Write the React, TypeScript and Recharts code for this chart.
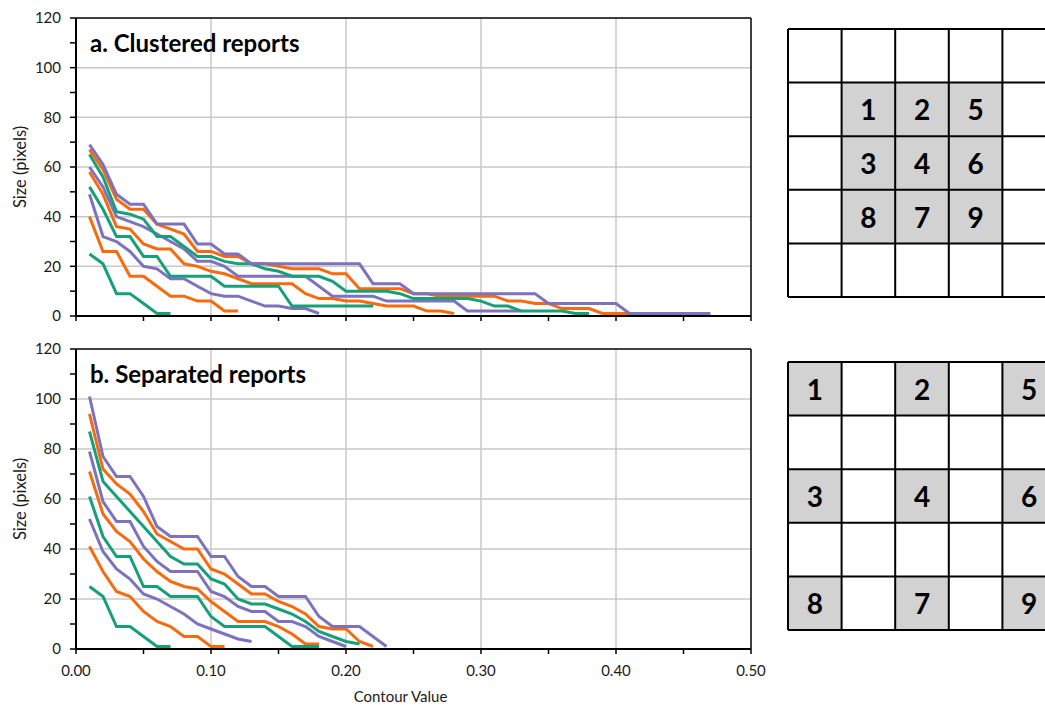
import React from 'react';
import { LineChart, Line, XAxis, YAxis, CartesianGrid, ReferenceLine } from 'recharts';

const FONT = 'Lato, "Open Sans", sans-serif';

const ORANGE = '#f96a0c';
const GREEN = '#16a07a';
const PURPLE = '#7c72bd';

// contour values on the x axis
const contourValues = [
  0.01, 0.02, 0.03, 0.04, 0.05, 0.06, 0.07, 0.08, 0.09, 0.1,
  0.11, 0.12, 0.13, 0.14, 0.15, 0.16, 0.17, 0.18, 0.19, 0.2,
  0.21, 0.22, 0.23, 0.24, 0.25, 0.26, 0.27, 0.28, 0.29, 0.3,
  0.31, 0.32, 0.33, 0.34, 0.35, 0.36, 0.37, 0.38, 0.39, 0.4,
  0.41, 0.42, 0.43, 0.44, 0.45, 0.46, 0.47,
];

const xTicks = [0, 0.05, 0.1, 0.15, 0.2, 0.25, 0.3, 0.35, 0.4, 0.45, 0.5];
const yTicks = [0, 10, 20, 30, 40, 50, 60, 70, 80, 90, 100, 110, 120];
const gridYValues = [20, 40, 60, 80, 100];
const gridXValues = [0.1, 0.2, 0.3, 0.4];

// a. clustered reports
const clusteredOrangeA = [67, 59, 47, 43, 43, 37, 35, 33, 26, 26, 24, 24, 21, 21, 20, 19, 19, 19, 17, 17, 11, 11, 11, 11, 9, 9, 8, 8, 8, 8, 8, 6, 6, 5, 5, 3, 3, 3, 1, 1, 1];
const clusteredGreenA = [65, 56, 42, 41, 39, 32, 32, 28, 24, 24, 22, 21, 21, 19, 18, 16, 16, 16, 14, 10, 10, 10, 10, 9, 7, 7, 7, 7, 7, 6, 4, 4, 2, 2, 2, 2, 1, 1];
const clusteredPurpleA = [69, 61, 49, 45, 45, 37, 37, 37, 29, 29, 25, 25, 21, 21, 21, 21, 21, 21, 21, 21, 21, 13, 13, 13, 9, 9, 9, 9, 9, 9, 9, 9, 9, 9, 5, 5, 5, 5, 5, 5, 1, 1, 1, 1, 1, 1, 1];
const clusteredOrangeB = [58, 49, 36, 35, 29, 27, 27, 21, 20, 18, 17, 15, 13, 13, 13, 13, 9, 7, 7, 6, 6, 5, 4, 4, 4, 2, 2, 1];
const clusteredGreenB = [52, 43, 32, 32, 24, 24, 16, 16, 16, 16, 12, 12, 12, 12, 12, 4, 4, 4, 4, 4, 4, 4];
const clusteredPurpleB = [60, 52, 40, 38, 36, 33, 30, 27, 22, 22, 20, 16, 16, 16, 16, 16, 16, 12, 8, 8, 8, 8, 6, 6, 6, 6, 6, 6, 2, 2, 2, 2, 2];
const clusteredOrangeC = [40, 26, 26, 16, 16, 12, 8, 8, 6, 6, 2, 2];
const clusteredGreenC = [25, 21, 9, 9, 5, 1, 1];
const clusteredPurpleC = [49, 32, 30, 26, 20, 19, 15, 15, 12, 9, 8, 8, 6, 4, 4, 3, 3, 1];

// b. separated reports
const separatedOrangeA = [94, 72, 66, 62, 55, 46, 43, 40, 40, 32, 30, 26, 22, 22, 19, 17, 14, 9, 8, 8, 3, 1];
const separatedGreenA = [87, 67, 61, 55, 49, 43, 37, 34, 34, 28, 26, 20, 18, 18, 16, 14, 11, 7, 5, 3, 2];
const separatedPurpleA = [101, 77, 69, 69, 61, 49, 45, 45, 45, 37, 37, 29, 25, 25, 21, 21, 21, 13, 9, 9, 9, 5, 1];
const separatedOrangeB = [71, 54, 47, 43, 36, 31, 27, 25, 24, 19, 15, 11, 11, 11, 9, 6, 2, 2];
const separatedGreenB = [61, 45, 37, 37, 25, 25, 21, 21, 21, 13, 9, 9, 9, 9, 5, 1, 1, 1];
const separatedPurpleB = [79, 59, 51, 51, 41, 35, 31, 31, 31, 23, 21, 17, 15, 15, 11, 11, 9, 5, 3, 1];
const separatedOrangeC = [41, 31, 23, 21, 15, 11, 9, 5, 5, 1, 1];
const separatedGreenC = [25, 21, 9, 9, 5, 1, 1];
const separatedPurpleC = [52, 39, 32, 28, 22, 20, 17, 14, 10, 8, 6, 4, 3];

// report layouts drawn on the right
const clusteredLayout = [
  ['', '', '', '', ''],
  ['', '1', '2', '5', ''],
  ['', '3', '4', '6', ''],
  ['', '8', '7', '9', ''],
  ['', '', '', '', ''],
];
const separatedLayout = [
  ['1', '', '2', '', '5'],
  ['', '', '', '', ''],
  ['3', '', '4', '', '6'],
  ['', '', '', '', ''],
  ['8', '', '7', '', '9'],
];

interface Series {
  key: string;
  color: string;
  values: number[];
}

const clusteredSeries: Series[] = [
  { key: 'oC', color: ORANGE, values: clusteredOrangeC },
  { key: 'gC', color: GREEN, values: clusteredGreenC },
  { key: 'pC', color: PURPLE, values: clusteredPurpleC },
  { key: 'oB', color: ORANGE, values: clusteredOrangeB },
  { key: 'gB', color: GREEN, values: clusteredGreenB },
  { key: 'pB', color: PURPLE, values: clusteredPurpleB },
  { key: 'oA', color: ORANGE, values: clusteredOrangeA },
  { key: 'gA', color: GREEN, values: clusteredGreenA },
  { key: 'pA', color: PURPLE, values: clusteredPurpleA },
];

const separatedSeries: Series[] = [
  { key: 'oC', color: ORANGE, values: separatedOrangeC },
  { key: 'gC', color: GREEN, values: separatedGreenC },
  { key: 'pC', color: PURPLE, values: separatedPurpleC },
  { key: 'oB', color: ORANGE, values: separatedOrangeB },
  { key: 'gB', color: GREEN, values: separatedGreenB },
  { key: 'pB', color: PURPLE, values: separatedPurpleB },
  { key: 'oA', color: ORANGE, values: separatedOrangeA },
  { key: 'gA', color: GREEN, values: separatedGreenA },
  { key: 'pA', color: PURPLE, values: separatedPurpleA },
];

const buildRows = (series: Series[]) =>
  contourValues.map((c, i) => {
    const row: Record<string, number | null> = { contour: c };
    series.forEach((s) => {
      row[s.key] = i < s.values.length ? s.values[i] : null;
    });
    return row;
  });

const tickStyle = { fill: '#1a1a1a', fontSize: 15, fontFamily: FONT };

interface PanelProps {
  title: string;
  series: Series[];
  top: number;
  height: number;
  showXLabels: boolean;
}

const Panel: React.FC<PanelProps> = ({ title, series, top, height, showXLabels }) => {
  const rows = buildRows(series);
  const xAxisHeight = showXLabels ? 56 : 14;
  return (
    <div style={{ position: 'absolute', left: 0, top, width: 770, height }}>
      <LineChart
        width={770}
        height={height}
        data={rows}
        margin={{ top: 18, right: 19, bottom: 0, left: 16 }}
      >
        <CartesianGrid
          horizontalValues={gridYValues}
          verticalValues={gridXValues}
          stroke="#c8c8c8"
          strokeWidth={1.5}
        />
        <XAxis
          type="number"
          dataKey="contour"
          domain={[0, 0.5]}
          ticks={xTicks}
          interval={0}
          allowDataOverflow
          height={xAxisHeight}
          axisLine={{ stroke: '#000', strokeWidth: 2 }}
          tickLine={{ stroke: '#000', strokeWidth: 1.5 }}
          tickSize={5}
          tickMargin={11}
          tick={tickStyle}
          tickFormatter={(v: number) =>
            showXLabels && Math.round(v * 100) % 10 === 0 ? v.toFixed(2) : ''
          }
          label={
            showXLabels
              ? {
                  value: 'Contour Value',
                  position: 'insideBottom',
                  offset: 3,
                  dx: -13,
                  style: { fill: '#1a1a1a', fontSize: 15, fontFamily: FONT },
                }
              : undefined
          }
        />
        <YAxis
          type="number"
          domain={[0, 120]}
          ticks={yTicks}
          interval={0}
          allowDataOverflow
          width={60}
          axisLine={{ stroke: '#000', strokeWidth: 2 }}
          tickLine={{ stroke: '#000', strokeWidth: 1.5 }}
          tickSize={6}
          tickMargin={9}
          tick={tickStyle}
          tickFormatter={(v: number) => (v % 20 === 0 ? String(v) : '')}
          label={{
            value: 'Size (pixels)',
            angle: -90,
            position: 'insideLeft',
            offset: 4,
            style: { textAnchor: 'middle', fill: '#1a1a1a', fontSize: 16.5, fontFamily: FONT },
          }}
        />
        <ReferenceLine y={120} stroke="#000" strokeWidth={1.5} />
        <ReferenceLine x={0.5} stroke="#000" strokeWidth={1.5} />
        {series.map((s) => (
          <Line
            key={s.key}
            type="linear"
            dataKey={s.key}
            stroke={s.color}
            strokeWidth={3}
            dot={false}
            activeDot={false}
            connectNulls={false}
            isAnimationActive={false}
          />
        ))}
      </LineChart>
      <div
        style={{
          position: 'absolute',
          left: 90,
          top: 29,
          fontSize: 24,
          fontWeight: 700,
          color: '#000',
          fontFamily: FONT,
          lineHeight: '28px',
          whiteSpace: 'nowrap',
        }}
      >
        {title}
      </div>
    </div>
  );
};

const CELL = 53.6;

const CellGrid: React.FC<{ left: number; top: number; cells: string[][] }> = ({ left, top, cells }) => {
  const n = cells.length;
  const size = n * CELL + 4;
  return (
    <svg style={{ position: 'absolute', left: left - 2, top: top - 2 }} width={size} height={size}>
      <g transform="translate(2,2)">
        {cells.map((row, r) =>
          row.map((label, c) => (
            <rect
              key={`f-${r}-${c}`}
              x={c * CELL}
              y={r * CELL}
              width={CELL}
              height={CELL}
              fill={label ? '#d2d2d2' : '#fff'}
            />
          ))
        )}
        {Array.from({ length: n + 1 }, (_, i) => (
          <g key={`l-${i}`}>
            <line x1={i * CELL} y1={0} x2={i * CELL} y2={n * CELL} stroke="#000" strokeWidth={2} />
            <line x1={0} y1={i * CELL} x2={n * CELL} y2={i * CELL} stroke="#000" strokeWidth={2} />
          </g>
        ))}
        {cells.map((row, r) =>
          row.map((label, c) =>
            label ? (
              <text
                key={`t-${r}-${c}`}
                x={c * CELL + CELL / 2}
                y={r * CELL + CELL / 2}
                textAnchor="middle"
                dominantBaseline="central"
                fontFamily={FONT}
                fontWeight={700}
                fontSize={28}
                fill="#000"
              >
                {label}
              </text>
            ) : null
          )
        )}
      </g>
    </svg>
  );
};

export default function App() {
  return (
    <div
      style={{
        position: 'absolute',
        left: 0,
        top: 0,
        width: 1045,
        height: 705,
        background: '#fff',
        overflow: 'hidden',
        fontFamily: FONT,
      }}
    >
      <Panel title="a. Clustered reports" series={clusteredSeries} top={0} height={330} showXLabels={false} />
      <Panel title="b. Separated reports" series={separatedSeries} top={331} height={374} showXLabels />
      <CellGrid left={788} top={29} cells={clusteredLayout} />
      <CellGrid left={788} top={362} cells={separatedLayout} />
    </div>
  );
}
